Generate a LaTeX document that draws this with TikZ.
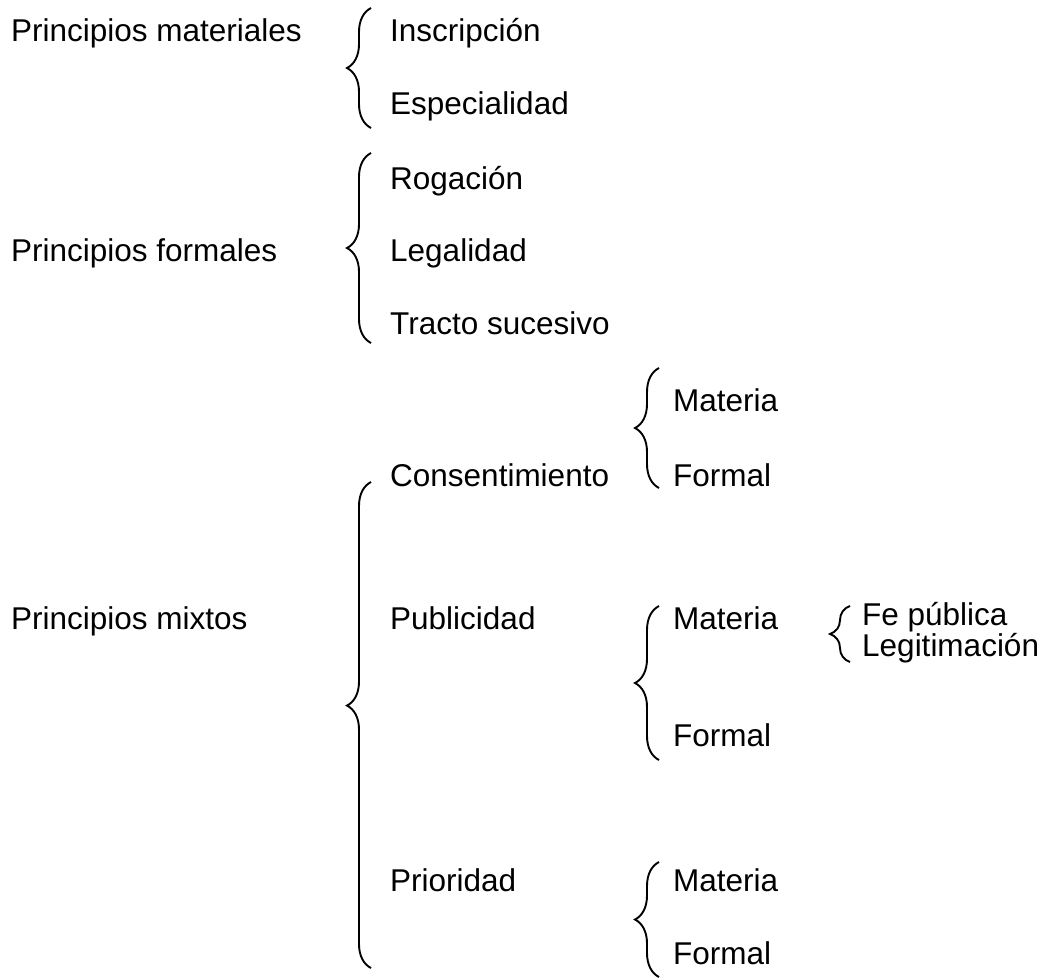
\documentclass[tikz,border=0pt]{standalone}
\usepackage{fontspec}
\setmainfont{Liberation Sans}
\usetikzlibrary{decorations.pathreplacing}

\tikzset{
	item/.style={anchor=base west, inner sep=0pt, font=\fontsize{31.5}{27}\selectfont},
	curly/.style={decorate, decoration={brace, amplitude=24pt}, line width=1.9pt},
}

\begin{document}
\begin{tikzpicture}[x=1pt, y=-1pt]
	\useasboundingbox (0,0) rectangle (1043,978);

	\node[item] (pmat) at (11, 41)     {Principios materiales};
	\node[item] (insc) at (390, 41)    {Inscripción};
	\node[item] (espe) at (390, 114)   {Especialidad};

	\node[item] (pfor) at (11, 261)    {Principios formales};
	\node[item] (roga) at (390, 189)   {Rogación};
	\node[item] (lega) at (390, 261)   {Legalidad};
	\node[item] (trac) at (390, 334)   {Tracto sucesivo};

	\node[item] (pmix) at (11, 629)    {Principios mixtos};
	\node[item] (cons) at (390, 486)   {Consentimiento};
	\node[item] (cmat) at (673, 411)   {Materia};
	\node[item] (cfor) at (673, 486)   {Formal};
	\node[item] (publ) at (390, 629)   {Publicidad};
	\node[item] (umat) at (673, 629)   {Materia};
	\node[item] (ufor) at (673, 746)   {Formal};
	\node[item, align=left] (fele) at (862, 656) {Fe pública\\Legitimación};
	\node[item] (prio) at (390, 891)   {Prioridad};
	\node[item] (rmat) at (673, 891)   {Materia};
	\node[item] (rfor) at (673, 964)   {Formal};

	\coordinate (b1s) at (371, 128);  \coordinate (b1e) at (371, 8);
	\coordinate (b2s) at (371, 343);  \coordinate (b2e) at (371, 153);
	\coordinate (b3s) at (371, 968);  \coordinate (b3e) at (371, 482);
	\coordinate (b4s) at (659, 488);  \coordinate (b4e) at (659, 368);
	\coordinate (b5s) at (659, 760);  \coordinate (b5e) at (659, 606);
	\coordinate (b6s) at (850, 662);  \coordinate (b6e) at (850, 606);
	\coordinate (b7s) at (659, 977);  \coordinate (b7e) at (659, 862);

	\draw[curly] (b1s) -- (b1e);
	\draw[curly] (b2s) -- (b2e);
	\draw[curly, decoration={aspect=0.54}] (b3s) -- (b3e);
	\draw[curly] (b4s) -- (b4e);
	\draw[curly] (b5s) -- (b5e);
	\draw[curly, decoration={amplitude=20pt}] (b6s) -- (b6e);
	\draw[curly] (b7s) -- (b7e);

\end{tikzpicture}
\end{document}
